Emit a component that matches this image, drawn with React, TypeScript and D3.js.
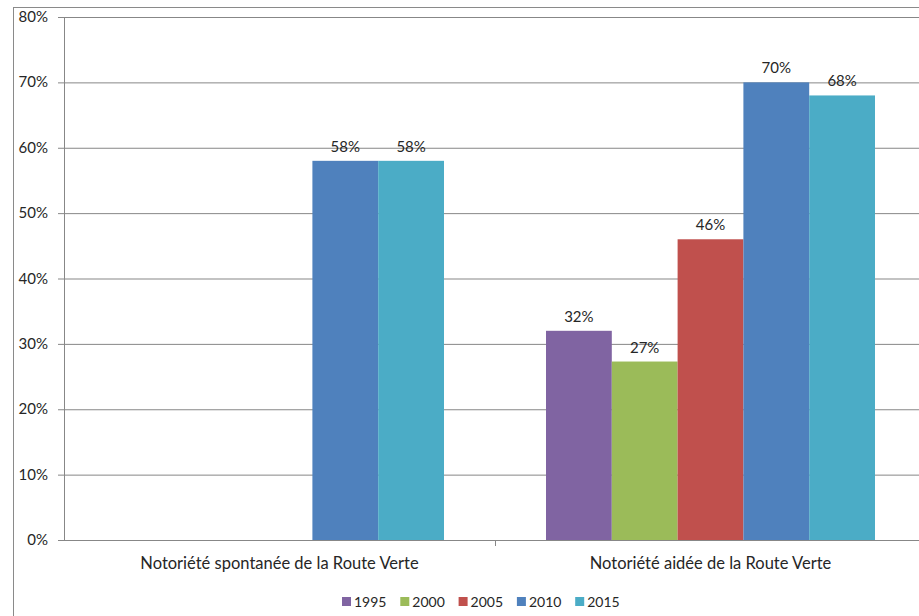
import React from "react";
import * as d3 from "d3";

const categories = ["Notoriété spontanée de la Route Verte", "Notoriété aidée de la Route Verte"];
const years = ["1995", "2000", "2005", "2010", "2015"];
const colors = ["#8064A2", "#9BBB59", "#C0504D", "#4F81BD", "#4BACC6"];
const values1995 = [null, 32];
const values2000 = [null, 27.3];
const values2005 = [null, 46];
const values2010 = [58, 70];
const values2015 = [58, 68];
const labels1995 = ["", "32%"];
const labels2000 = ["", "27%"];
const labels2005 = ["", "46%"];
const labels2010 = ["58%", "70%"];
const labels2015 = ["58%", "68%"];
const yTicks = [0, 10, 20, 30, 40, 50, 60, 70, 80];

const series = [values1995, values2000, values2005, values2010, values2015];
const seriesLabels = [labels1995, labels2000, labels2005, labels2010, labels2015];

export default function App() {
  const W = 919, H = 616;
  const left = 64, right = 926, top = 17, bottom = 540;
  const x0 = d3.scaleBand().domain(categories).range([left, right]).paddingInner(0).paddingOuter(0);
  const groupW = 329;
  const x1 = d3.scaleBand().domain(years).range([0, groupW]);
  const y = d3.scaleLinear().domain([0, 80]).range([bottom, top]);
  const font = "Lato, 'Open Sans', sans-serif";
  const text = "#262626";
  const grid = "#878787";

  return (
    <svg width={W} height={H} style={{ position: "absolute", left: 0, top: 0, background: "#fff" }} fontFamily={font}>
      <rect x={13.5} y={7.5} width={W + 10} height={H + 10} fill="none" stroke="#8a8a8a" />
      {yTicks.map((t) => (
        <g key={t}>
          {t > 0 && <line x1={left} x2={W} y1={y(t) + 0.5} y2={y(t) + 0.5} stroke={grid} />}
          <line x1={left - 6} x2={left} y1={y(t) + 0.5} y2={y(t) + 0.5} stroke={grid} />
          <text x={48} y={y(t) + 5} textAnchor="end" fontSize={15} fill={text}>{t}%</text>
        </g>
      ))}
      {categories.map((c, ci) => {
        const gx = (x0(c) as number) + (x0.bandwidth() - groupW) / 2;
        return (
          <g key={c}>
            {series.map((s, si) => {
              const v = s[ci];
              if (v === null || v === undefined) return null;
              const bx = gx + (x1(years[si]) as number);
              return (
                <g key={si}>
                  <rect x={bx} y={y(v)} width={x1.bandwidth()} height={bottom - y(v)} fill={colors[si]} />
                  <text x={bx + x1.bandwidth() / 2} y={y(v) - 9} textAnchor="middle" fontSize={15} fill={text}>{seriesLabels[si][ci]}</text>
                </g>
              );
            })}
            <text x={(x0(c) as number) + x0.bandwidth() / 2} y={569} textAnchor="middle" fontSize={16.5} fill={text}>{c}</text>
          </g>
        );
      })}
      <line x1={left + 0.5} x2={left + 0.5} y1={top} y2={bottom} stroke={grid} />
      <line x1={left - 6} x2={W} y1={bottom + 0.5} y2={bottom + 0.5} stroke={grid} />
      {categories.map((c, ci) => (
        <line key={ci} x1={(x0(c) as number) + x0.bandwidth() + 0.5} x2={(x0(c) as number) + x0.bandwidth() + 0.5} y1={bottom} y2={bottom + 6} stroke={grid} />
      ))}
      {years.map((yr, i) => {
        const lx = 342 + i * 58.3;
        return (
          <g key={yr}>
            <rect x={lx} y={597} width={9} height={9} fill={colors[i]} />
            <text x={lx + 12} y={607} fontSize={14} fill={text}>{yr}</text>
          </g>
        );
      })}
    </svg>
  );
}
